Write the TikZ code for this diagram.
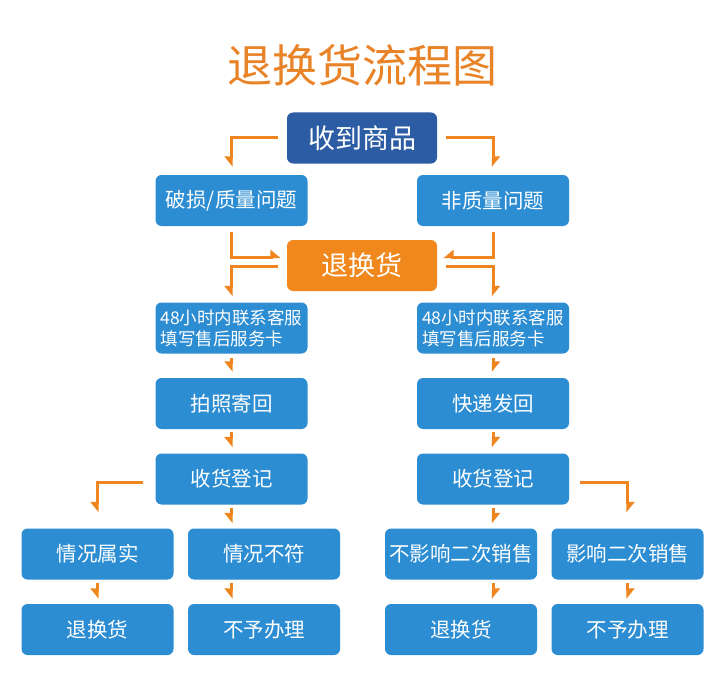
\documentclass[tikz,border=0pt]{standalone}
\usepackage{fontspec}
\usepackage{tikz}
\usetikzlibrary{arrows.meta}
\newfontfamily\cjk{Noto Sans CJK SC}
\definecolor{topblue}{RGB}{44,92,163}
\definecolor{boxblue}{RGB}{44,141,211}
\definecolor{retorange}{RGB}{240,136,30}
\definecolor{arrorange}{RGB}{238,133,30}
\definecolor{titleorange}{RGB}{233,131,40}
\tikzset{
	box/.style={fill=boxblue,rounded corners=6pt,minimum width=152pt,minimum height=51pt,inner sep=0pt,text=white,font=\cjk\fontsize{20.5}{24}\selectfont},
	bigbox/.style={box,minimum width=150pt,font=\cjk\fontsize{27}{32}\selectfont},
	svcbox/.style={box,align=left,font=\cjk\fontsize{17.5}{21}\selectfont},
	arr/.style={draw=arrorange,line width=3pt,-{Triangle[harpoon,length=9pt,width=14pt]}},
	arrw/.style={draw=arrorange,line width=3pt,-{Triangle[harpoon,swap,length=9pt,width=14pt]}}
}
\begin{document}
\begin{tikzpicture}[x=1pt,y=-1pt]
	\useasboundingbox[fill=white] (0,0) rectangle (724,693);
	\node (title) at (362,65) [text=titleorange,font=\cjk\fontsize{45}{50}\selectfont] {退换货流程图};
	\node (recv) at (362,138) [bigbox,fill=topblue] {收到商品};
	\node (dmg) at (231.5,200.5) [box] {破损/质量问题};
	\node (nonq) at (493,200.5) [box] {非质量问题};
	\node (ret) at (362,265.5) [bigbox,fill=retorange] {退换货};
	\node (svcL) at (231.5,328) [svcbox] {48小时内联系客服\\填写售后服务卡};
	\node (svcR) at (493,328) [svcbox] {48小时内联系客服\\填写售后服务卡};
	\node (photoL) at (231.5,403.5) [box] {拍照寄回};
	\node (shipR) at (493,403.5) [box] {快递发回};
	\node (recvL) at (231.5,479) [box] {收货登记};
	\node (recvR) at (493,479) [box] {收货登记};
	\node (okL) at (97.5,554) [box] {情况属实};
	\node (badL) at (264,554) [box] {情况不符};
	\node (noHurt) at (461,554) [box] {不影响二次销售};
	\node (hurt) at (627.5,554) [box] {影响二次销售};
	\node (exL) at (97.5,629.5) [box] {退换货};
	\node (rejL) at (264,629.5) [box] {不予办理};
	\node (exR) at (461,629.5) [box] {退换货};
	\node (rejR) at (627.5,629.5) [box] {不予办理};

	\draw[arrw,shorten <=9pt,shorten >=8pt] (recv.west) -| (dmg.north);
	\draw[arr,shorten <=9pt,shorten >=8pt] (recv.east) -| (nonq.north);
	\draw[arr,shorten <=6pt,shorten >=6pt] (dmg.south) |- ([yshift=8.5pt]ret.west);
	\draw[arrw,shorten <=6pt,shorten >=6pt] (nonq.south) |- ([yshift=8.5pt]ret.east);
	\draw[arrw,shorten <=9pt,shorten >=6pt] ([yshift=-0.5pt]ret.west) -| (svcL.north);
	\draw[arr,shorten <=9pt,shorten >=6pt] ([yshift=-0.5pt]ret.east) -| (svcR.north);
	\draw[arrw,shorten <=4pt,shorten >=6pt] (svcL) -- (photoL);
	\draw[arr,shorten <=4pt,shorten >=6pt] (svcR) -- (shipR);
	\draw[arrw,shorten <=3pt,shorten >=6pt] (photoL) -- (recvL);
	\draw[arr,shorten <=3pt,shorten >=6pt] (shipR) -- (recvR);

	\draw[arrw,shorten <=12pt,shorten >=16pt] ([yshift=-3pt]recvL.west) -| (okL.north);
	\draw[arrw,shorten <=3pt,shorten >=5pt] (recvL.south) -- (recvL.south |- badL.north);
	\draw[arrw,shorten <=3pt,shorten >=5pt] (okL) -- (exL);
	\draw[arrw,shorten <=3pt,shorten >=5pt] (recvL.south |- badL.south) -- (recvL.south |- rejL.north);
	\draw[arr,shorten <=3pt,shorten >=5pt] (recvR.south) -- (recvR.south |- noHurt.north);
	\draw[arr,shorten <=3pt,shorten >=5pt] (recvR.south |- noHurt.south) -- (recvR.south |- exR.north);
	\draw[arr,shorten <=11pt,shorten >=16pt] ([yshift=-3pt]recvR.east) -| (hurt.north);
	\draw[arr,shorten <=3pt,shorten >=5pt] (hurt) -- (rejR);
\end{tikzpicture}
\end{document}
